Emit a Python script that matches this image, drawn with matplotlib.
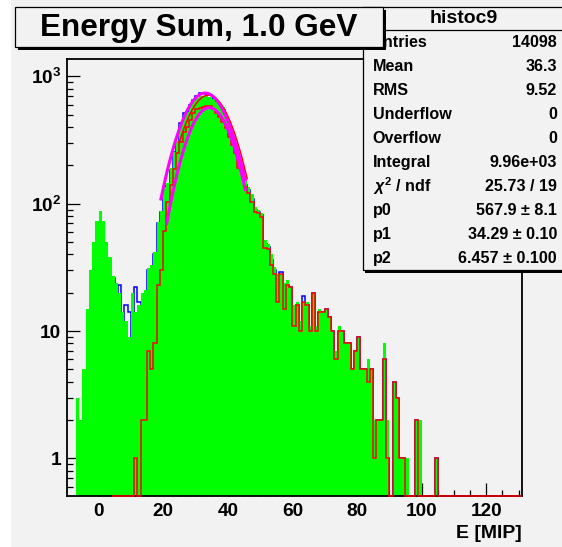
import numpy as np
import matplotlib
matplotlib.use("Agg")
import matplotlib.pyplot as plt
from matplotlib.patches import Rectangle
from matplotlib.ticker import FixedLocator, MultipleLocator, NullFormatter

plt.rcParams['font.family'] = ['Liberation Sans', 'DejaVu Sans']
plt.rcParams['font.weight'] = 'bold'
plt.rcParams['mathtext.fontset'] = 'custom'
plt.rcParams['mathtext.rm'] = 'Liberation Sans:bold'
plt.rcParams['mathtext.bf'] = 'Liberation Sans:bold'
plt.rcParams['mathtext.it'] = 'Liberation Sans:bold:italic'

# ---------------- data ----------------
# summed energy, all events (1 MIP bins, first bin starts at -7)
green_start = -7
green_counts = [3, 2, 5, 15, 30, 50, 73,
                88, 73, 50, 38, 27, 24, 20, 14, 12, 9,
                20, 14, 16, 20, 21, 31, 33, 42, 72, 88,
                135, 145, 190, 255, 310, 420, 500, 530, 590, 640,
                680, 700, 705, 700, 690, 660, 630, 610, 570, 500,
                420, 345, 280, 215, 200, 155, 135, 120, 95, 90,
                85, 52, 48, 40, 32, 28, 28, 24, 25, 22,
                16, 17, 12, 17, 17, 11, 20, 11, 15, 14,
                15, 13, 10, 7, 11, 10, 8, 8, 5, 7,
                9, 5, 5, 6, 5, 2, 2, 2, 8, 2,
                0, 4, 3, 1, 1, 1, 0, 0, 2, 2,
                0, 0, 0, 0, 1]

# histograms booked from 4 to 131 MIP
line_start = 4
blue_counts = [26, 17, 23, 11, 16, 14,
               9, 22, 17, 16, 18, 30, 29, 40, 71, 86,
               136, 140, 184, 256, 307, 428, 513, 530, 596, 653,
               702, 745, 745, 730, 720, 670, 620, 590, 540, 470,
               400, 330, 270, 200, 195, 140, 128, 108, 90, 86,
               82, 48, 46, 36, 30, 18, 29, 15, 23, 22,
               11, 16, 10, 19, 16, 10, 20, 10, 14, 14,
               15, 13, 10, 6, 10, 10, 8, 8, 5, 7,
               9, 5, 5, 4, 5, 1, 2, 2, 6, 1,
               0, 4, 3, 1, 1, 0, 0, 0, 2, 0,
               0, 0, 0, 0, 1, 0, 0, 0, 0, 0] + [0] * 21

red_counts = [0, 0, 0, 0, 0, 0,
              0, 1, 0, 2, 2, 7, 5, 8, 23, 30,
              61, 104, 140, 186, 249, 307, 368, 403, 455, 513,
              552, 560, 570, 586, 586, 552, 520, 482, 441, 391,
              336, 289, 249, 190, 185, 136, 122, 104, 86, 84,
              79, 45, 44, 33, 28, 17, 28, 15, 23, 22,
              11, 16, 10, 17, 16, 10, 20, 10, 14, 14,
              15, 13, 10, 6, 10, 10, 8, 8, 5, 7,
              9, 5, 5, 4, 5, 1, 2, 2, 6, 1,
              0, 4, 3, 1, 1, 0, 0, 0, 2, 0,
              0, 0, 0, 0, 1, 0, 0, 0, 0, 0] + [0] * 21

# gaussian fits: (constant, mean, sigma, x_low, x_high)
fit_red = (567.9, 34.29, 6.457, 21.0, 45.5)
fit_all = (740.0, 33.0, 7.0, 19.2, 45.5)
fit_green = (712.0, 34.0, 6.9, 25.0, 46.0)

x_ticks = [0, 20, 40, 60, 80, 100, 120]
y_ticks = [1, 10, 100, 1000]
y_ticklabels = ['1', '10', r'$\mathbf{10^{2}}$', r'$\mathbf{10^{3}}$']

stat_labels = ['Entries', 'Mean', 'RMS', 'Underflow', 'Overflow', 'Integral',
               r'$\chi^{2}$ / ndf', 'p0', 'p1', 'p2']
stat_values = ['14098', '36.3', '9.52', '0', '0', '9.96e+03',
               '25.73 / 19', '567.9 \u00b1 8.1', '34.29 \u00b1 0.10',
               '6.457 \u00b1 0.100']

# ---------------- layout ----------------
W, H = 562, 547
BG = '#f2f2f2'
YMIN, YMAX = 0.506, 1380.0


def fx(px):
    return px / W


def fy(py):
    return 1.0 - py / H


fig = plt.figure(figsize=(W / 100, H / 100), dpi=100, facecolor=BG)
# white margin strip on the left of the canvas
fig.add_artist(Rectangle((0, 0), fx(10.5), 1, transform=fig.transFigure,
                         facecolor='white', edgecolor='none', zorder=-5))

ax = fig.add_axes([fx(66.7), fy(496.0), (521.9 - 66.7) / W, (496.0 - 58.6) / H])
ax.set_facecolor(BG)
ax.set_yscale('log')
ax.set_xlim(-9.87, 131.05)
ax.set_ylim(YMIN, YMAX)


def gauss(x, a, m, s):
    return a * np.exp(-0.5 * ((x - m) / s) ** 2)


g_vals = np.array(green_counts, dtype=float)
g_edges = np.arange(green_start, green_start + len(g_vals) + 1)
b_vals = np.array(blue_counts, dtype=float)
r_vals = np.array(red_counts, dtype=float)
l_edges = np.arange(line_start, line_start + len(b_vals) + 1)

ax.stairs(np.clip(b_vals, YMIN, None), l_edges, baseline=YMIN,
          color='#0000ff', lw=1.1, zorder=2, clip_on=False)
ax.stairs(np.clip(g_vals, YMIN, None), g_edges, baseline=YMIN, fill=True,
          color='#00ff00', lw=0, zorder=3)
ax.stairs(np.clip(r_vals, YMIN, None), l_edges, baseline=YMIN,
          color='#ff0000', lw=1.1, zorder=12, clip_on=False)

a, m, s, lo, hi = fit_green
xx = np.linspace(lo, hi, 300)
ax.plot(xx, gauss(xx, a, m, s), color='#ff0000', lw=1.1, zorder=13)
for a, m, s, lo, hi in (fit_all, fit_red):
    xx = np.linspace(lo, hi, 300)
    ax.plot(xx, gauss(xx, a, m, s), color='#ff00ff', lw=2.2, zorder=14,
            solid_capstyle='butt')

# axes and ticks
for side in ('left', 'bottom', 'right', 'top'):
    ax.spines[side].set_linewidth(1.3)
    ax.spines[side].set_color('black')
    ax.spines[side].set_zorder(10)

ax.xaxis.set_major_locator(FixedLocator(x_ticks))
ax.xaxis.set_minor_locator(MultipleLocator(5))
ax.set_xticklabels([str(t) for t in x_ticks])
ax.yaxis.set_major_locator(FixedLocator(y_ticks))
ax.set_yticklabels(y_ticklabels)
minor_y = [v * 10.0 ** d for d in range(-1, 4) for v in range(2, 10)]
minor_y = [v for v in minor_y if YMIN < v < YMAX]
ax.yaxis.set_minor_locator(FixedLocator(minor_y))
ax.yaxis.set_minor_formatter(NullFormatter())

ax.tick_params(which='both', direction='in', top=False, right=False,
               color='black', width=0.9, labelsize=13.7)
ax.tick_params(which='major', length=9.4)
ax.tick_params(which='minor', length=4.6)
ax.tick_params(axis='x', which='major', pad=5)
ax.tick_params(axis='y', which='major', pad=4)
for lab in ax.get_xticklabels() + ax.get_yticklabels():
    lab.set_fontweight('bold')

fig.text(fx(521.5), fy(533), 'E [MIP]', ha='right', va='center',
         fontsize=14, fontweight='bold')

# statistics box
sx0, sx1, sy0, sy1 = 362.5, 566.0, 6.5, 270.0
fig.add_artist(Rectangle((fx(sx0 + 2.5), fy(sy1 + 2.5)), (sx1 - sx0) / W,
                         (sy1 - sy0) / H, transform=fig.transFigure,
                         facecolor='black', edgecolor='none', zorder=20))
fig.add_artist(Rectangle((fx(sx0), fy(sy1)), (sx1 - sx0) / W, (sy1 - sy0) / H,
                         transform=fig.transFigure, facecolor=BG,
                         edgecolor='black', lw=0.9, zorder=21))
row_h = (sy1 - sy0) / 11.0
fig.add_artist(plt.Line2D([fx(sx0), fx(sx1)], [fy(sy0 + row_h), fy(sy0 + row_h)],
                          transform=fig.transFigure, color='black', lw=0.9,
                          zorder=22))
fig.text(fx(463.5), fy(sy0 + row_h / 2), 'histoc9', ha='center',
         va='center', fontsize=14, fontweight='bold', zorder=23)
for i, (lab, val) in enumerate(zip(stat_labels, stat_values)):
    yc = fy(sy0 + row_h * (i + 1.5))
    fig.text(fx(372.7), yc, lab, ha='left', va='center', fontsize=11.6,
             fontweight='bold', zorder=23)
    fig.text(fx(557.0), yc, val, ha='right', va='center', fontsize=11.6,
             fontweight='bold', zorder=23)

# title box
tx0, tx1, ty0, ty1 = 15.0, 383.0, 7.0, 47.0
fig.add_artist(Rectangle((fx(tx0 + 2.5), fy(ty1 + 2.5)), (tx1 - tx0) / W,
                         (ty1 - ty0) / H, transform=fig.transFigure,
                         facecolor='black', edgecolor='none', zorder=30))
fig.add_artist(Rectangle((fx(tx0), fy(ty1)), (tx1 - tx0) / W, (ty1 - ty0) / H,
                         transform=fig.transFigure, facecolor=BG,
                         edgecolor='black', lw=0.9, zorder=31))
fig.text(fx((tx0 + tx1) / 2), fy((ty0 + ty1) / 2 + 1), 'Energy Sum, 1.0 GeV',
         ha='center', va='center', fontsize=22.7, fontweight='bold', zorder=32)

fig.savefig('out.png', dpi=100, facecolor=BG)
